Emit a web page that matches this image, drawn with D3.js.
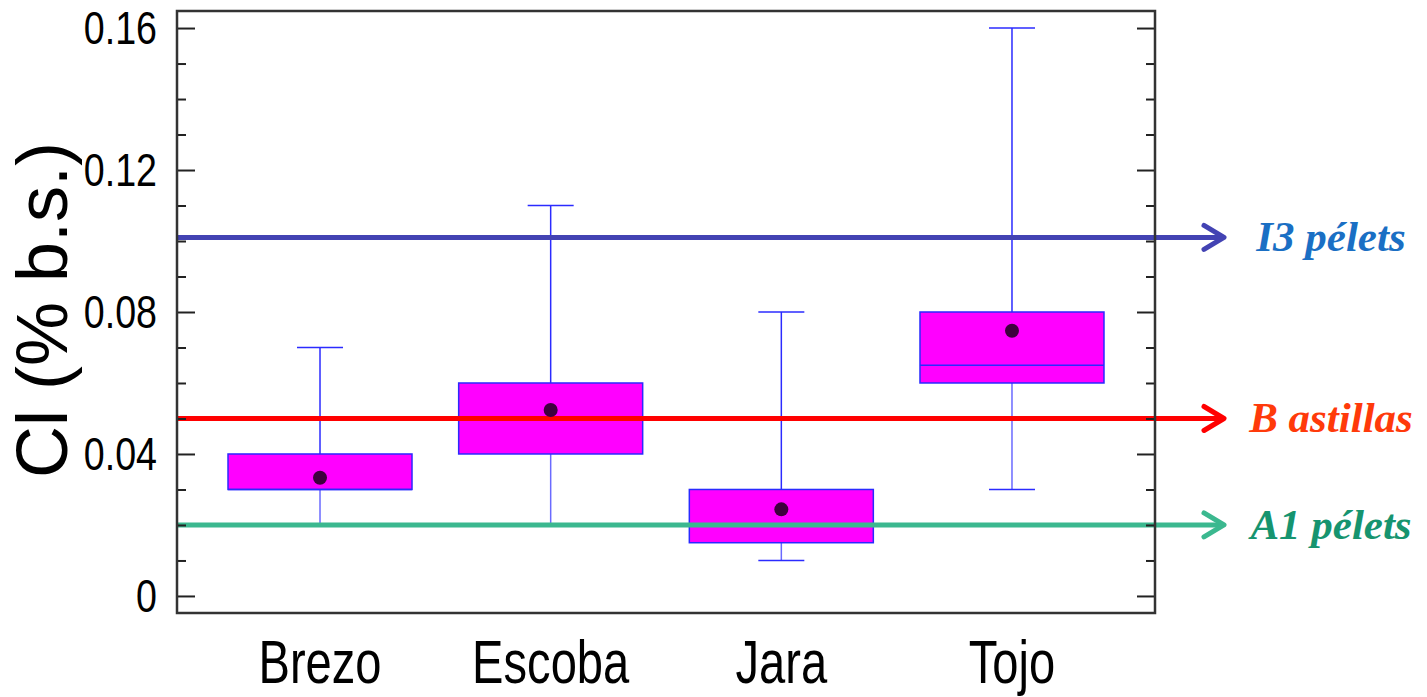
<!DOCTYPE html>
<html>
<head>
<meta charset="utf-8">
<script src="https://cdn.jsdelivr.net/npm/d3@7"></script>
<style>
  body { margin: 0; background: #fff; }
  svg { display: block; }
  .axis path { display: none; }
  .axis line { stroke: #222; stroke-width: 2; }
</style>
</head>
<body>
<div id="chart"></div>
<script>
// data
const categories = ["Brezo", "Escoba", "Jara", "Tojo"];
const whiskerLow = [0.02, 0.02, 0.01, 0.03];
const boxLow = [0.03, 0.04, 0.015, 0.06];
const medians = [0.03, 0.05, 0.02, 0.065];
const boxHigh = [0.04, 0.06, 0.03, 0.08];
const whiskerHigh = [0.07, 0.11, 0.08, 0.16];
const means = [0.0333, 0.0524, 0.0244, 0.0747];

const refNames = ["I3 pélets", "B astillas", "A1 pélets"];
const refValues = [0.101, 0.05, 0.02];
const refLineColors = ["#4343b3", "#ff0000", "#3bb88f"];
const refTextColors = ["#1a6fc4", "#ff3a0a", "#16946f"];

const majorTicks = [0, 0.04, 0.08, 0.12, 0.16];
const minorTicks = d3.range(0, 17).map(d => d / 100).filter(d => majorTicks.indexOf(d) < 0);

const width = 1427, height = 697;
const plot = {left: 177, right: 1155, top: 11, bottom: 613};

const svg = d3.select("#chart").append("svg")
  .attr("width", width)
  .attr("height", height);

const y = d3.scaleLinear()
  .domain([-0.0048, 0.1648])
  .range([plot.bottom, plot.top]);

const x = d3.scalePoint()
  .domain(categories)
  .range([plot.left, plot.right])
  .padding(0.62);

const boxW = 184, capW = 46;

const rows = categories.map((c, i) => ({
  cat: c, wl: whiskerLow[i], bl: boxLow[i], med: medians[i],
  bh: boxHigh[i], wh: whiskerHigh[i], mean: means[i]
}));

// boxes and whiskers
const box = svg.append("g").selectAll("g")
  .data(rows)
  .enter().append("g");

box.append("line")
  .attr("x1", d => x(d.cat)).attr("x2", d => x(d.cat))
  .attr("y1", d => y(d.wh)).attr("y2", d => y(d.bh))
  .attr("stroke", "#2b2bff").attr("stroke-width", 1.5);

box.append("line")
  .attr("x1", d => x(d.cat)).attr("x2", d => x(d.cat))
  .attr("y1", d => y(d.bl)).attr("y2", d => y(d.wl))
  .attr("stroke", "#6a6aff").attr("stroke-width", 1.5);

box.append("line")
  .attr("x1", d => x(d.cat) - capW / 2).attr("x2", d => x(d.cat) + capW / 2)
  .attr("y1", d => y(d.wh)).attr("y2", d => y(d.wh))
  .attr("stroke", "#2b2bff").attr("stroke-width", 1.5);

box.append("line")
  .attr("x1", d => x(d.cat) - capW / 2).attr("x2", d => x(d.cat) + capW / 2)
  .attr("y1", d => y(d.wl)).attr("y2", d => y(d.wl))
  .attr("stroke", "#2b2bff").attr("stroke-width", 1.5);

box.append("rect")
  .attr("x", d => x(d.cat) - boxW / 2)
  .attr("width", boxW)
  .attr("y", d => y(d.bh))
  .attr("height", d => y(d.bl) - y(d.bh))
  .attr("fill", "#ff00ff")
  .attr("stroke", "#2a2aff")
  .attr("stroke-width", 1.5);

box.append("line")
  .attr("x1", d => x(d.cat) - boxW / 2).attr("x2", d => x(d.cat) + boxW / 2)
  .attr("y1", d => y(d.med)).attr("y2", d => y(d.med))
  .attr("stroke", "#2a2aff").attr("stroke-width", 1.5);

// reference lines with arrows
const arrowTip = 1224;
const refs = svg.append("g").selectAll("g")
  .data(refValues)
  .enter().append("g");

refs.append("line")
  .attr("x1", plot.left).attr("x2", arrowTip - 2)
  .attr("y1", d => y(d)).attr("y2", d => y(d))
  .attr("stroke", (d, i) => refLineColors[i])
  .attr("stroke-width", 5);

refs.append("path")
  .attr("d", d => "M" + (arrowTip - 20) + "," + (y(d) - 12) +
    "L" + arrowTip + "," + y(d) +
    "L" + (arrowTip - 20) + "," + (y(d) + 12))
  .attr("fill", "none")
  .attr("stroke", (d, i) => refLineColors[i])
  .attr("stroke-width", 5)
  .attr("stroke-linecap", "round")
  .attr("stroke-linejoin", "round");

refs.append("text")
  .attr("x", 1331)
  .attr("y", d => y(d) + 14)
  .attr("text-anchor", "middle")
  .style("font-family", "'Liberation Serif', 'Times New Roman', serif")
  .style("font-weight", "bold")
  .style("font-style", "italic")
  .style("font-size", "43px")
  .attr("fill", (d, i) => refTextColors[i])
  .text((d, i) => refNames[i]);

// mean dots
svg.append("g").selectAll("circle")
  .data(rows)
  .enter().append("circle")
  .attr("cx", d => x(d.cat))
  .attr("cy", d => y(d.mean))
  .attr("r", 7)
  .attr("fill", "#3e003e");

// axes
const tickScale = 0.8;
svg.append("g")
  .attr("class", "axis")
  .attr("transform", "translate(" + plot.left + ",0)")
  .call(d3.axisLeft(y).tickValues(majorTicks).tickSize(-18).tickPadding(20)
    .tickFormat(d => d === 0 ? "0" : d3.format(".2f")(d)))
  .call(g => g.selectAll("text")
    .attr("x", -20 / tickScale)
    .attr("transform", "scale(" + tickScale + ",1)")
    .attr("fill", "#000")
    .style("font-family", "'Liberation Sans', Arial, sans-serif")
    .style("font-size", "47px"));

svg.append("g")
  .attr("class", "axis")
  .attr("transform", "translate(" + plot.left + ",0)")
  .call(d3.axisLeft(y).tickValues(minorTicks).tickSize(-9).tickFormat(""));

svg.append("g")
  .attr("class", "axis")
  .attr("transform", "translate(" + plot.right + ",0)")
  .call(d3.axisRight(y).tickValues(majorTicks).tickSize(-18).tickFormat(""));

svg.append("g")
  .attr("class", "axis")
  .attr("transform", "translate(" + plot.right + ",0)")
  .call(d3.axisRight(y).tickValues(minorTicks).tickSize(-9).tickFormat(""));

// frame
svg.append("rect")
  .attr("x", plot.left).attr("y", plot.top)
  .attr("width", plot.right - plot.left)
  .attr("height", plot.bottom - plot.top)
  .attr("fill", "none")
  .attr("stroke", "#333")
  .attr("stroke-width", 2.5);

// category labels
const labelScale = 0.76;
svg.append("g").selectAll("text")
  .data(categories)
  .enter().append("text")
  .attr("transform", d => "translate(" + x(d) + ",683) scale(" + labelScale + ",1)")
  .attr("text-anchor", "middle")
  .style("font-family", "'Liberation Sans', Arial, sans-serif")
  .style("font-size", "62px")
  .text(d => d);

// y title
svg.append("text")
  .attr("transform", "translate(67,310) rotate(-90)")
  .attr("text-anchor", "middle")
  .style("font-family", "'Liberation Sans', Arial, sans-serif")
  .style("font-size", "72px")
  .text("Cl (% b.s.)");
</script>
</body>
</html>
